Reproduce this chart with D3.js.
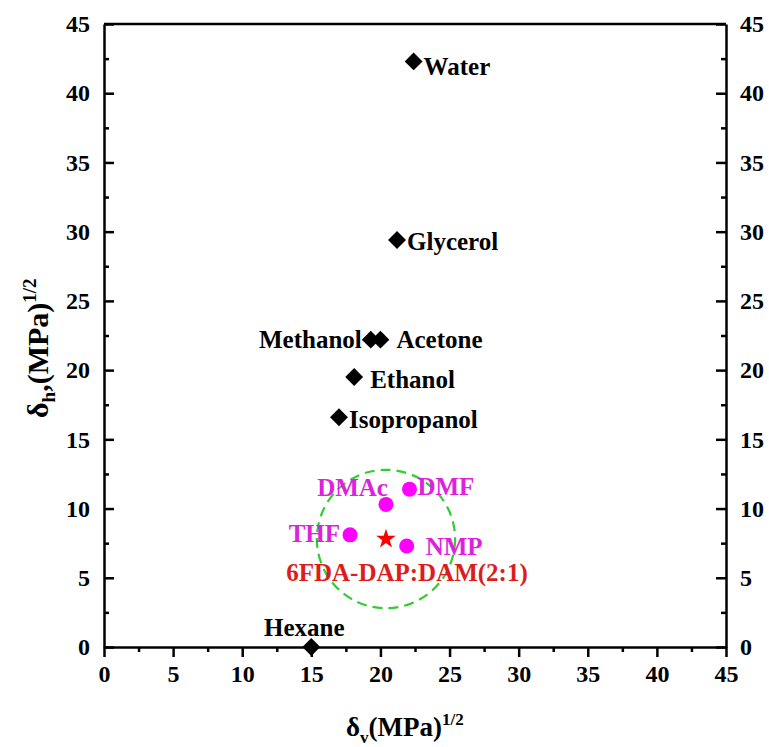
<!DOCTYPE html>
<html>
<head>
<meta charset="utf-8">
<script src="https://cdn.jsdelivr.net/npm/d3@7"></script>
<style>
  body { margin: 0; background: #fff; }
  svg text { font-family: "Liberation Serif", "Times New Roman", serif; font-weight: bold; }
</style>
</head>
<body>
<div id="chart"></div>
<script>
// Hansen-type solubility map: delta_v vs delta_h
const solventNames = ['Water', 'Glycerol', 'Methanol', 'Acetone', 'Ethanol', 'Isopropanol', 'Hexane'];
const solventDv = [22.4, 21.2, 19.3, 20.0, 18.1, 17.0, 15.0];
const solventDh = [42.3, 29.4, 22.2, 22.2, 19.5, 16.6, 0.0];

const goodNames = ['DMAc', 'DMF', 'THF', 'NMP'];
const goodDv = [20.4, 22.1, 17.8, 21.9];
const goodDh = [10.3, 11.4, 8.1, 7.3];

const polymerName = '6FDA-DAP:DAM(2:1)';
const polymerDv = 20.4;
const polymerDh = 7.8;
const sphereRadius = 5.0;

const axisTicks = [0, 5, 10, 15, 20, 25, 30, 35, 40, 45];
const minorTicks = [2.5, 7.5, 12.5, 17.5, 22.5, 27.5, 32.5, 37.5, 42.5];

const width = 769, height = 747;
const margin = { top: 24, right: 43, bottom: 100, left: 104 };

// label placement (px, relative to the marker)
const labelPos = {
  Water: [10, 14, 'start'], Glycerol: [10, 10, 'start'], Methanol: [-9, 8, 'end'],
  Acetone: [16, 8, 'start'], Ethanol: [16, 11, 'start'], Isopropanol: [10, 11, 'start'],
  Hexane: [-7, -11, 'middle'], DMAc: [2, -8, 'end'], DMF: [8, 6, 'start'],
  THF: [-10, 7, 'end'], NMP: [19, 9, 'start']
};

const svg = d3.select('#chart').append('svg')
  .attr('width', width).attr('height', height);

const x = d3.scaleLinear().domain([0, 45]).range([margin.left, width - margin.right]);
const y = d3.scaleLinear().domain([0, 45]).range([height - margin.bottom, margin.top]);

const styleAxis = (g, size) => {
  g.selectAll('path, line').attr('stroke', '#000').attr('stroke-width', 2.5);
  g.selectAll('text').style('font-size', size).attr('fill', '#000');
};

// bottom axis (ticks outward)
svg.append('g').attr('transform', `translate(0,${y(0)})`)
  .call(d3.axisBottom(x).tickValues(minorTicks).tickSize(5).tickFormat(''))
  .call(g => styleAxis(g, '24px')).select('.domain').remove();
svg.append('g').attr('transform', `translate(0,${y(0)})`)
  .call(d3.axisBottom(x).tickValues(axisTicks).tickSize(10).tickSizeOuter(0).tickPadding(8))
  .call(g => styleAxis(g, '24px'));

// left axis (ticks inward)
svg.append('g').attr('transform', `translate(${x(0)},0)`)
  .call(d3.axisLeft(y).tickValues(minorTicks).tickSize(-5).tickFormat(''))
  .call(g => styleAxis(g, '24px')).select('.domain').remove();
svg.append('g').attr('transform', `translate(${x(0)},0)`)
  .call(d3.axisLeft(y).tickValues(axisTicks).tickSize(-10).tickSizeOuter(0).tickPadding(14))
  .call(g => styleAxis(g, '24px'));

// right axis (ticks inward)
svg.append('g').attr('transform', `translate(${x(45)},0)`)
  .call(d3.axisRight(y).tickValues(minorTicks).tickSize(-5).tickFormat(''))
  .call(g => styleAxis(g, '24px')).select('.domain').remove();
svg.append('g').attr('transform', `translate(${x(45)},0)`)
  .call(d3.axisRight(y).tickValues(axisTicks).tickSize(-10).tickSizeOuter(0).tickPadding(14))
  .call(g => styleAxis(g, '24px'));

// top frame line
svg.append('line')
  .attr('x1', x(0)).attr('x2', x(45)).attr('y1', y(45)).attr('y2', y(45))
  .attr('stroke', '#000').attr('stroke-width', 2.5);

// solubility sphere
svg.append('ellipse')
  .attr('cx', x(polymerDv)).attr('cy', y(polymerDh))
  .attr('rx', x(sphereRadius) - x(0)).attr('ry', y(0) - y(sphereRadius))
  .attr('fill', 'none').attr('stroke', '#33cc33').attr('stroke-width', 2.2)
  .attr('stroke-dasharray', '10,6');

// non-solvents: diamonds
const diamond = d3.symbol().type(d3.symbolSquare).size(160);
solventNames.forEach((name, i) => {
  const px = x(solventDv[i]), py = y(solventDh[i]);
  svg.append('path').attr('d', diamond)
    .attr('transform', `translate(${px},${py}) rotate(45)`)
    .attr('fill', '#000');
  const [dx, dy, anchor] = labelPos[name];
  svg.append('text')
    .attr('x', px + dx).attr('y', py + dy)
    .attr('text-anchor', anchor)
    .style('font-size', '25px').attr('fill', '#000')
    .text(name);
});

// good solvents: magenta circles
goodNames.forEach((name, i) => {
  const px = x(goodDv[i]), py = y(goodDh[i]);
  svg.append('circle').attr('cx', px).attr('cy', py).attr('r', 7.5).attr('fill', '#f0f');
  const [dx, dy, anchor] = labelPos[name];
  svg.append('text')
    .attr('x', px + dx).attr('y', py + dy)
    .attr('text-anchor', anchor)
    .style('font-size', '25px').attr('fill', '#dd22dd')
    .text(name);
});

// polymer: red star
svg.append('path')
  .attr('d', d3.symbol().type(d3.symbolStar).size(120))
  .attr('transform', `translate(${x(polymerDv)},${y(polymerDh)})`)
  .attr('fill', '#ff0000');
svg.append('text')
  .attr('x', x(polymerDv) + 21).attr('y', y(polymerDh) + 42)
  .attr('text-anchor', 'middle')
  .style('font-size', '25px').attr('fill', '#dd1c1c')
  .text(polymerName);

// x-axis title
const xt = svg.append('text')
  .attr('x', 346).attr('y', 736)
  .style('font-size', '27px').attr('fill', '#000');
xt.append('tspan').text('δ');
xt.append('tspan').attr('dy', 7).style('font-size', '17px').text('v');
xt.append('tspan').attr('dy', -7).text('(MPa)');
xt.append('tspan').attr('dy', -11).style('font-size', '17px').text('1/2');

// y-axis title
const yt = svg.append('text')
  .attr('transform', 'translate(48,418) rotate(-90)')
  .style('font-size', '30px').attr('fill', '#000');
yt.append('tspan').text('δ');
yt.append('tspan').attr('dy', 7).style('font-size', '19px').text('h');
yt.append('tspan').attr('dy', -7).text(',(MPa)');
yt.append('tspan').attr('dy', -12).style('font-size', '19px').text('1/2');
</script>
</body>
</html>
